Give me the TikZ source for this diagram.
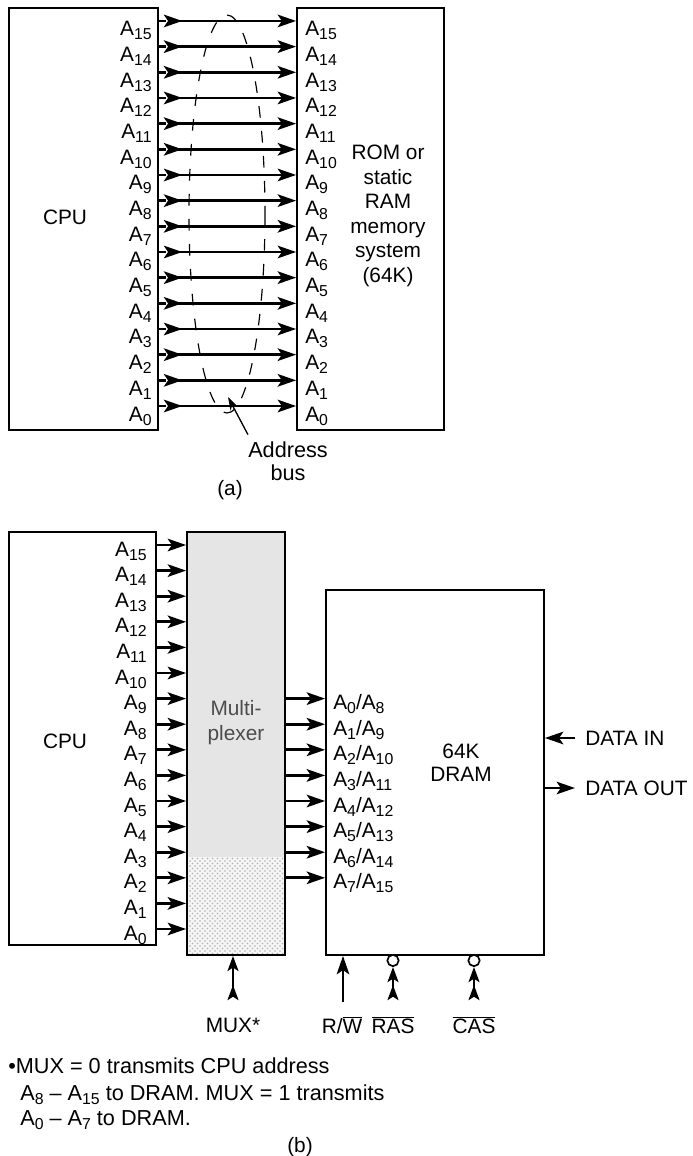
\documentclass[tikz,border=0pt]{standalone}
\usepackage{fontspec}
\setmainfont{Liberation Sans}
\usetikzlibrary{arrows.meta,fit,patterns}

\newcommand{\ovl}[1]{$\overline{\mbox{#1}}$}
\newcommand{\subs}[1]{\raisebox{-2.4pt}{\fontsize{9.5}{10}\selectfont#1}}

\begin{document}
\begin{tikzpicture}[
    x=0.6pt, y=-0.6pt,
    every node/.style={font=\fontsize{12.5}{14}\selectfont, inner sep=0pt},
    box/.style={draw, line width=1.1pt, inner sep=0pt},
    bus/.style={line width=1.6pt, -{Stealth[length=11pt,width=7.5pt,inset=2.5pt]}},
    bus2/.style={line width=1.6pt, {Stealth[length=11pt,width=7.5pt,inset=2.5pt,reversed]}-{Stealth[length=11pt,width=7.5pt,inset=2.5pt]}},
    ctl/.style={line width=1.6pt, {Stealth[length=9pt,width=6.5pt,inset=2pt,reversed]}-{Stealth[length=9pt,width=6.5pt,inset=2pt]}},
    bubble/.style={circle, draw, line width=1pt, fill=white, minimum size=6.8pt}
]
\useasboundingbox (0,0) rectangle (693,1156);

% (a) CPU to ROM
\node[box, fit={(9,8) (158,430)}] (cpua) {};
\node[box, fit={(297,8) (444,430)}] (rom) {};
\node (cpualbl) at (65,217) {CPU};
\node[align=center, font=\fontsize{12.5}{14.7}\selectfont] (romlbl) at (388,216)
    {ROM or\\static\\RAM\\memory\\system\\(64K)};

\foreach \i in {0,...,15}{
  \pgfmathsetmacro{\y}{406-25.67*\i}
  \draw[line width=1.6pt] (cpua.east |- 0,\y) -- ([xshift=4pt]cpua.east |- 0,\y);
  \draw[bus2] ([xshift=3pt]cpua.east |- 0,\y) -- (rom.west |- 0,\y);
  \node[anchor=base east] (la\i) at (152,\y+15) {A\subs{\i}};
  \node[anchor=base west] (ra\i) at (305,\y+15) {A\subs{\i}};
}

\draw[line width=0.7pt, dash pattern=on 7pt off 8pt] (227,214) ellipse [x radius=38, y radius=199];

\coordinate (bustip) at (228,397);
\node[align=center, font=\fontsize{13}{13.8}\selectfont] (buslbl) at (288,461) {Address\\bus};
\draw[line width=0.8pt, -{Stealth[length=8pt,width=5pt]}] ([yshift=4pt]buslbl.north west) -- (bustip);
\node (capa) at (230,490) {(a)};

% (b) CPU, multiplexer, DRAM
\fill[black!10] (187,532) rectangle (285,857);
\fill[black!4] (187,857) rectangle (285,955);
\fill[pattern=crosshatch dots, pattern color=black!30] (187,857) rectangle (285,955);
\node[box, fit={(9,532) (156,945)}] (cpub) {};
\node[box, fit={(187,532) (285,955)}] (mux) {};
\node[box, fit={(326,590) (544,955)}] (dram) {};
\node (cpublbl) at (65,741) {CPU};
\node[align=center, text=black!70, font=\fontsize{12.5}{15}\selectfont] (muxlbl) at (236,723) {Multi-\\plexer};
\node[align=center, font=\fontsize{12.5}{13.8}\selectfont] (dramlbl) at (461,763) {64K\\DRAM};

\foreach \i in {0,...,15}{
  \pgfmathsetmacro{\y}{929-25.6*\i}
  \draw[bus] (cpub.east |- 0,\y) -- (mux.west |- 0,\y);
  \node[anchor=base east] (lb\i) at (147,\y+11) {A\subs{\i}};
}
\foreach \i in {0,...,7}{
  \pgfmathsetmacro{\y}{698.6+25.6*\i}
  \pgfmathtruncatemacro{\j}{\i+8}
  \draw[bus] (mux.east |- 0,\y) -- (dram.west |- 0,\y);
  \node[anchor=base west] (da\i) at (333,\y+11) {A\subs{\i}/A\subs{\j}};
}

\node[anchor=west] (din) at (585,738) {DATA IN};
\node[anchor=west] (dout) at (585,788) {DATA OUT};
\draw[bus] ([xshift=-6pt]din.west) -- (dram.east |- din.west);
\draw[bus] (dram.east |- dout.west) -- ([xshift=-6pt]dout.west);

% control inputs
\node[bubble] (rasb) at (393,960.5) {};
\node[bubble] (casb) at (474,960.5) {};
\coordinate (muxin) at (233,1000);
\coordinate (rwin) at (343,1002);
\coordinate (rasin) at (393,1000);
\coordinate (casin) at (474,1000);
\draw[ctl] (muxin) -- (muxin |- mux.south);
\draw[bus] (rwin) -- (rwin |- dram.south);
\draw[ctl] (rasin) -- (rasb.south);
\draw[ctl] (casin) -- (casb.south);

\node (muxsel) at (233,1025) {MUX*};
\node (rwlbl) at (342,1025) {R/\ovl{W}};
\node (raslbl) at (393,1025) {\ovl{RAS}};
\node (caslbl) at (474,1025) {\ovl{CAS}};

\node[anchor=base west, font=\fontsize{13}{14}\selectfont] (note1) at (8,1073) {\textbullet MUX = 0 transmits CPU address};
\node[anchor=base west, font=\fontsize{13}{14}\selectfont] (note2) at (20,1100) {A\subs{8} – A\subs{15} to DRAM. MUX = 1 transmits};
\node[anchor=base west, font=\fontsize{13}{14}\selectfont] (note3) at (20,1125) {A\subs{0} – A\subs{7} to DRAM.};
\node (capb) at (300,1147) {(b)};
\end{tikzpicture}
\end{document}
